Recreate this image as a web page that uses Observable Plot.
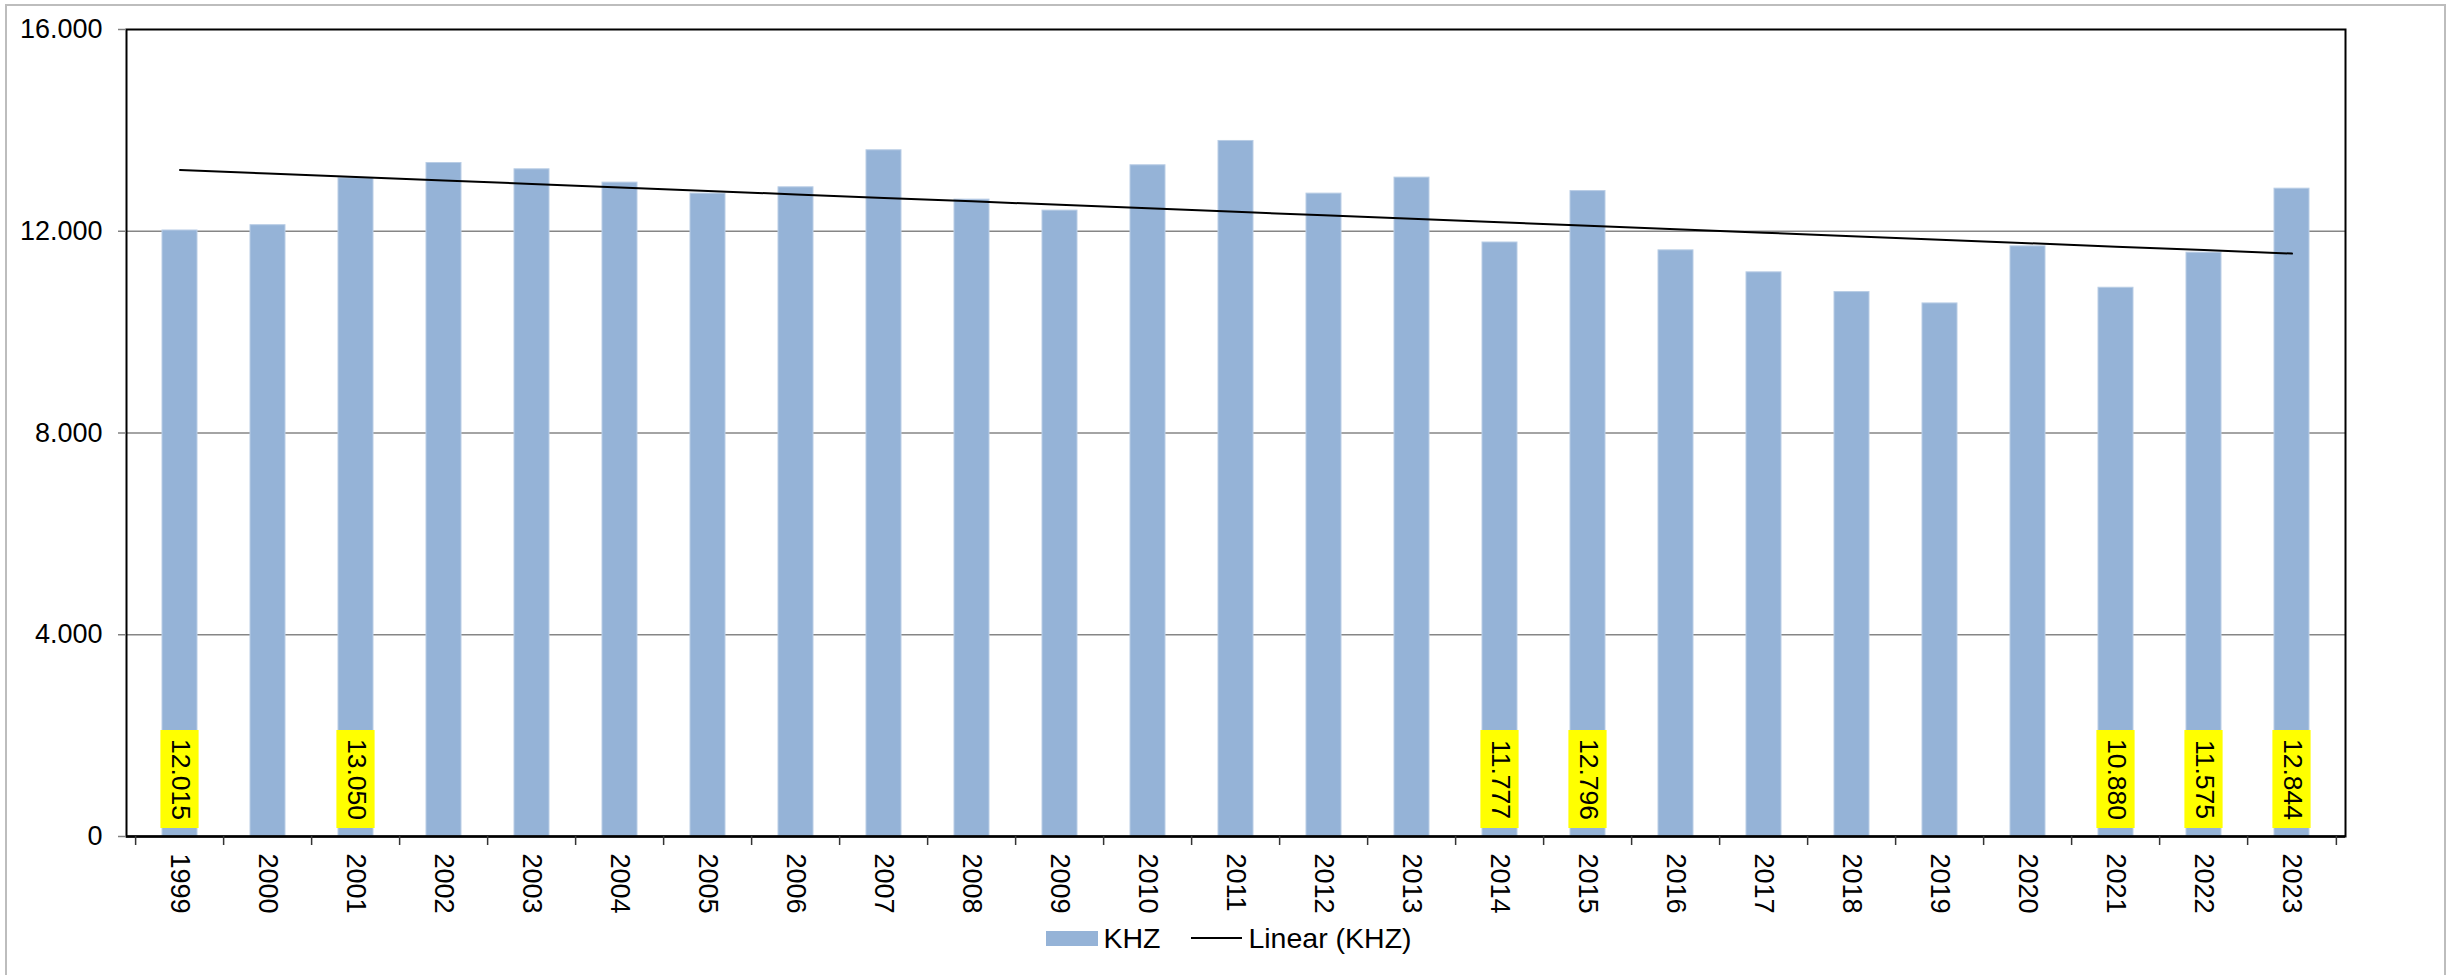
<!DOCTYPE html>
<html>
<head>
<meta charset="utf-8">
<script src="https://cdn.jsdelivr.net/npm/d3@7"></script>
<script src="https://cdn.jsdelivr.net/npm/@observablehq/plot@0.6"></script>
<style>
  html, body { margin: 0; padding: 0; background: #fff; }
  #wrap { position: relative; width: 2458px; height: 975px; overflow: hidden;
          font-family: "Liberation Sans", Arial, sans-serif; }
  #border { position: absolute; left: 5px; top: 4px; width: 2441px; height: 1000px;
            border: 2px solid #bdbdbd; box-sizing: border-box; }
  #chart { position: absolute; left: 0; top: 0; }
  #chart svg { display: block; }
  #legend { position: absolute; left: 0; top: 918px; width: 2458px; height: 40px;
            display: flex; justify-content: center; align-items: center;
            font-size: 28.5px; color: #000; }
  #legend .sw { width: 52px; height: 15px; background: #95B3D7; margin-right: 5px; }
  #legend .ln { width: 51px; height: 0; border-top: 2px solid #000; margin: 0 6px 0 31px; }
</style>
</head>
<body>
<div id="wrap">
  <div id="border"></div>
  <div id="chart"></div>
  <div id="legend"></div>
</div>
<script>
// ---- data ----
const years = ["1999","2000","2001","2002","2003","2004","2005","2006","2007","2008",
               "2009","2010","2011","2012","2013","2014","2015","2016","2017","2018",
               "2019","2020","2021","2022","2023"];
const khz = [12015, 12120, 13050, 13353, 13228, 12964, 12746, 12871, 13605, 12627,
             12409, 13308, 13790, 12746, 13063, 11777, 12796, 11621, 11185, 10794,
             10569, 11700, 10880, 11575, 12844];
const labeledYears = ["1999","2001","2014","2015","2021","2022","2023"];
const yTicks = [0, 4000, 8000, 12000, 16000];
const seriesName = "KHZ";
const trendName = "Linear (KHZ)";

// ---- derived tables ----
const data = years.map((y, i) => ({year: y, value: khz[i], i}));
const labels = data.filter(d => labeledYears.includes(d.year));
const mx = d3.mean(data, d => d.i), my = d3.mean(data, d => d.value);
const slope = d3.sum(data, d => (d.i - mx) * (d.value - my)) / d3.sum(data, d => (d.i - mx) ** 2);
const trend = data.map(d => ({year: d.year, value: my + slope * (d.i - mx)}));

const de = d3.formatLocale({decimal: ",", thousands: ".", grouping: [3], currency: ["", "€"]});
const fmt = de.format(",d");

// ---- layout ----
const W = 2458, H = 918, mL = 126, mR = 113, mT = 29, mB = H - 836;
const step = (W - mL - mR) / years.length;

const chart = Plot.plot({
  width: W, height: H,
  marginLeft: mL, marginRight: mR, marginTop: mT, marginBottom: mB,
  style: {fontFamily: "Liberation Sans, Arial, sans-serif", fontSize: "27px", color: "#000", background: "transparent"},
  x: {domain: years, paddingInner: 0.6, paddingOuter: 0.3, axis: null, label: null},
  y: {domain: [0, 16000], axis: null, label: null},
  marks: [
    Plot.gridY(yTicks.slice(1, -1), {stroke: "#868686", strokeOpacity: 1, strokeWidth: 1.5}),
    Plot.barY(data, {x: "year", y: "value", fill: "#95B3D7", stroke: "#b9cde5", strokeWidth: 1}),
    Plot.barY(labels, {x: "year", y1: 0, y2: 0, insetTop: -106, insetBottom: 8,
                       insetLeft: -1.6, insetRight: -1.6, fill: "#ffff00"}),
    Plot.text(labels, {x: "year", y: 0, text: d => fmt(d.value), rotate: 90, dy: -57,
                       fontSize: 26.5, fill: "#000"}),
    Plot.line(trend, {x: "year", y: "value", stroke: "#000", strokeWidth: 2}),
    Plot.frame({stroke: "#000", strokeWidth: 2}),
    Plot.ruleY([0], {stroke: "#000", strokeWidth: 2.5}),
    Plot.ruleX(years, {x: d => d, dx: -step / 2, y1: 0, y2: 0, insetBottom: -9, stroke: "#333", strokeWidth: 1.5}),
    Plot.ruleX(years.slice(-1), {x: d => d, dx: step / 2, y1: 0, y2: 0, insetBottom: -9, stroke: "#333", strokeWidth: 1.5}),
    Plot.axisY(yTicks, {tickFormat: fmt, tickSize: 8, tickPadding: 16, stroke: "#808080",
                        strokeWidth: 1.5, fill: "#000", fontSize: 27, label: null}),
    Plot.axisX({tickSize: 0, tickPadding: 17, tickRotate: 90, fill: "#000", fontSize: 27, label: null})
  ]
});
document.getElementById("chart").appendChild(chart);

// ---- legend ----
const lg = document.getElementById("legend");
lg.innerHTML = `<span class="sw"></span><span>${seriesName}</span><span class="ln"></span><span>${trendName}</span>`;
</script>
</body>
</html>
